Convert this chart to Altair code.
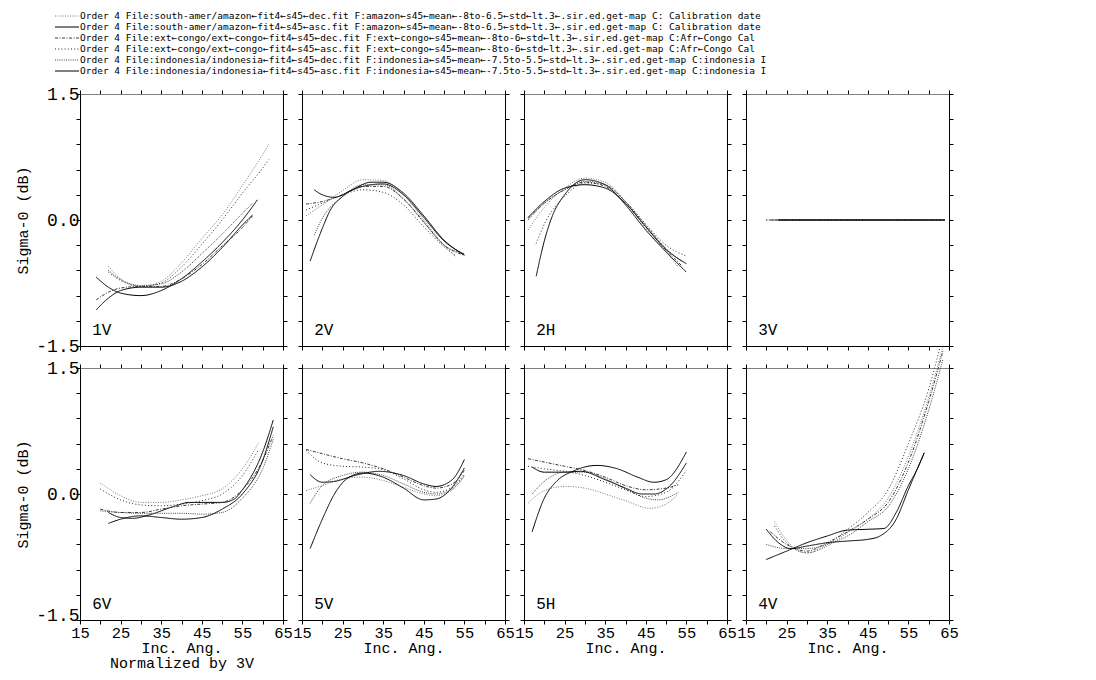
import altair as alt
import pandas as pd

# ---------------- series / legend ----------------
SERIES = ["amz_dec", "amz_asc", "con_dec", "con_asc", "ind_dec", "ind_asc"]
LEGEND_TEXT = [
    "Order 4 File:south-amer/amazon←fit4←s45←dec.fit F:amazon←s45←mean←-8to-6.5←std←lt.3←.sir.ed.get-map C:  Calibration date",
    "Order 4 File:south-amer/amazon←fit4←s45←asc.fit F:amazon←s45←mean←-8to-6.5←std←lt.3←.sir.ed.get-map C:  Calibration date",
    "Order 4 File:ext←congo/ext←congo←fit4←s45←dec.fit F:ext←congo←s45←mean←-8to-6←std←lt.3←.sir.ed.get-map C:Afr←Congo   Cal",
    "Order 4 File:ext←congo/ext←congo←fit4←s45←asc.fit F:ext←congo←s45←mean←-8to-6←std←lt.3←.sir.ed.get-map C:Afr←Congo   Cal",
    "Order 4 File:indonesia/indonesia←fit4←s45←dec.fit F:indonesia←s45←mean←-7.5to-5.5←std←lt.3←.sir.ed.get-map C:indonesia I",
    "Order 4 File:indonesia/indonesia←fit4←s45←asc.fit F:indonesia←s45←mean←-7.5to-5.5←std←lt.3←.sir.ed.get-map C:indonesia I",
]
SERIES_COLORS = ["#7a7a7a", "#000000", "#3a3a3a", "#2a2a2a", "#404040", "#000000"]
SERIES_DASH = [[1, 1.5], [1, 0], [3, 1.5, 1, 1.5], [1, 2.2], [1, 1.2], [1, 0]]

X_TICKS = [15, 20, 25, 30, 35, 40, 45, 50, 55, 60, 65]
Y_TICKS = [-1.5, -1.2, -0.9, -0.6, -0.3, 0.0, 0.3, 0.6, 0.9, 1.2, 1.5]

# ---------------- panel 1V ----------------
V1_AMZ_DEC = [(22, -0.55), (25, -0.70), (30, -0.79), (35, -0.73), (40, -0.51), (45, -0.22), (50, 0.06), (55, 0.41), (60, 0.78), (61.5, 0.90)]
V1_AMZ_ASC = [(19, -0.68), (22, -0.80), (25, -0.87), (30, -0.90), (35, -0.84), (40, -0.70), (45, -0.50), (50, -0.27), (55, 0.00), (58.7, 0.24)]
V1_CON_DEC = [(19, -0.95), (22, -0.86), (25, -0.81), (30, -0.79), (35, -0.79), (40, -0.70), (45, -0.53), (50, -0.31), (55, -0.09), (57.5, 0.05)]
V1_CON_ASC = [(22, -0.62), (25, -0.72), (30, -0.79), (35, -0.75), (40, -0.56), (45, -0.29), (50, 0.00), (55, 0.32), (60, 0.62), (61.5, 0.72)]
V1_IND_DEC = [(22, -0.60), (25, -0.71), (30, -0.78), (35, -0.76), (40, -0.62), (45, -0.40), (50, -0.17), (55, 0.08), (57.5, 0.20)]
V1_IND_ASC = [(19, -1.07), (22, -0.93), (25, -0.84), (30, -0.80), (35, -0.80), (40, -0.73), (45, -0.56), (50, -0.33), (55, -0.06), (57.5, 0.06)]

# ---------------- panel 2V ----------------
V2_AMZ_DEC = [(16, 0.05), (20, 0.18), (25, 0.35), (30, 0.48), (35, 0.47), (40, 0.30), (45, 0.00), (50, -0.30), (53, -0.44)]
V2_AMZ_ASC = [(17, -0.49), (20, -0.10), (22, 0.12), (25, 0.28), (30, 0.40), (35, 0.43), (40, 0.30), (45, 0.03), (50, -0.25), (55, -0.41)]
V2_CON_DEC = [(16, 0.19), (20, 0.22), (25, 0.30), (30, 0.40), (35, 0.40), (40, 0.25), (45, -0.02), (50, -0.30), (55, -0.42)]
V2_CON_ASC = [(16, 0.12), (20, 0.20), (25, 0.30), (30, 0.36), (35, 0.33), (40, 0.18), (45, -0.08), (50, -0.32), (53, -0.43)]
V2_IND_DEC = [(18, -0.18), (20, 0.02), (25, 0.28), (30, 0.42), (35, 0.42), (40, 0.25), (45, -0.03), (50, -0.30), (55, -0.40)]
V2_IND_ASC = [(18, 0.36), (20, 0.30), (23, 0.27), (27, 0.35), (32, 0.45), (35, 0.45), (40, 0.32), (45, 0.05), (50, -0.24), (55, -0.42)]

# ---------------- panel 2H ----------------
H2_AMZ_DEC = [(16, -0.12), (20, 0.15), (25, 0.38), (30, 0.50), (35, 0.45), (40, 0.22), (45, -0.10), (50, -0.38), (53, -0.56)]
H2_AMZ_ASC = [(18, -0.67), (20, -0.25), (22, 0.05), (25, 0.30), (30, 0.48), (35, 0.42), (40, 0.18), (45, -0.12), (50, -0.38), (55, -0.62)]
H2_CON_DEC = [(16, 0.02), (20, 0.20), (25, 0.36), (30, 0.45), (35, 0.40), (40, 0.20), (45, -0.08), (50, -0.36), (54, -0.55)]
H2_CON_ASC = [(18, -0.28), (20, -0.05), (25, 0.28), (30, 0.44), (35, 0.42), (40, 0.22), (45, -0.05), (50, -0.30), (55, -0.43)]
H2_IND_DEC = [(16, 0.00), (20, 0.20), (25, 0.36), (30, 0.46), (35, 0.42), (40, 0.22), (45, -0.06), (50, -0.34), (54, -0.50)]
H2_IND_ASC = [(16, 0.03), (20, 0.22), (25, 0.38), (30, 0.42), (35, 0.38), (40, 0.20), (45, -0.08), (50, -0.35), (55, -0.52)]

# ---------------- panel 3V (reference beam) ----------------
V3_AMZ_DEC = [(20, 0.0), (64, 0.0)]
V3_AMZ_ASC = [(23, 0.0), (64, 0.0)]
V3_CON_DEC = [(21, 0.0), (64, 0.0)]
V3_CON_ASC = [(20, 0.0), (63, 0.0)]
V3_IND_DEC = [(22, 0.0), (64, 0.0)]
V3_IND_ASC = [(23, 0.0), (64, 0.0)]

# ---------------- panel 6V ----------------
V6_AMZ_DEC = [(20, 0.13), (25, -0.02), (30, -0.10), (35, -0.10), (40, -0.07), (45, -0.02), (50, 0.06), (55, 0.30), (59, 0.61)]
V6_AMZ_ASC = [(22, -0.22), (25, -0.28), (28, -0.29), (32, -0.25), (38, -0.15), (42, -0.10), (45, -0.10), (50, -0.10), (53, -0.06), (55, 0.05), (60, 0.50), (62.6, 0.88)]
V6_CON_DEC = [(20, -0.18), (25, -0.22), (30, -0.22), (35, -0.18), (40, -0.14), (45, -0.12), (50, -0.10), (55, 0.05), (60, 0.40), (62.6, 0.70)]
V6_CON_ASC = [(20, 0.06), (25, -0.07), (30, -0.13), (35, -0.14), (40, -0.12), (45, -0.08), (50, 0.00), (55, 0.22), (59, 0.53)]
V6_IND_DEC = [(20, -0.20), (25, -0.22), (30, -0.23), (35, -0.23), (40, -0.23), (45, -0.24), (50, -0.22), (55, -0.05), (60, 0.30), (62.6, 0.65)]
V6_IND_ASC = [(22, -0.35), (25, -0.30), (30, -0.26), (35, -0.28), (40, -0.30), (45, -0.28), (50, -0.18), (55, 0.00), (60, 0.40), (62.6, 0.80)]

# ---------------- panel 5V ----------------
V5_AMZ_DEC = [(16, 0.04), (20, 0.10), (25, 0.18), (30, 0.20), (35, 0.16), (40, 0.08), (45, 0.00), (48, -0.02), (52, 0.05), (55, 0.21)]
V5_AMZ_ASC = [(17, -0.65), (20, -0.30), (23, 0.00), (26, 0.18), (30, 0.25), (35, 0.20), (40, 0.07), (45, -0.07), (48, -0.06), (52, 0.08), (55, 0.31)]
V5_CON_DEC = [(16, 0.53), (20, 0.48), (25, 0.42), (30, 0.37), (35, 0.30), (40, 0.20), (45, 0.10), (48, 0.07), (52, 0.12), (55, 0.28)]
V5_CON_ASC = [(16, 0.52), (20, 0.37), (25, 0.33), (30, 0.32), (35, 0.29), (40, 0.18), (45, 0.05), (48, 0.02), (52, 0.08), (55, 0.24)]
V5_IND_DEC = [(17, -0.11), (20, 0.10), (25, 0.22), (30, 0.26), (35, 0.22), (40, 0.12), (45, 0.02), (48, 0.00), (52, 0.06), (55, 0.22)]
V5_IND_ASC = [(17, 0.23), (20, 0.14), (23, 0.15), (28, 0.22), (34, 0.27), (40, 0.22), (45, 0.12), (48, 0.09), (52, 0.17), (55, 0.41)]

# ---------------- panel 5H ----------------
H5_AMZ_DEC = [(16, -0.11), (20, 0.04), (25, 0.09), (30, 0.07), (35, 0.00), (40, -0.08), (46, -0.17), (50, -0.12), (53, 0.00)]
H5_AMZ_ASC = [(17, -0.45), (20, -0.05), (23, 0.15), (27, 0.27), (33, 0.34), (38, 0.30), (43, 0.20), (47, 0.14), (50, 0.17), (55, 0.50)]
H5_CON_DEC = [(16, 0.42), (20, 0.38), (25, 0.33), (30, 0.28), (35, 0.20), (40, 0.10), (45, 0.05), (50, 0.07), (53, 0.11)]
H5_CON_ASC = [(16, 0.33), (20, 0.30), (25, 0.27), (30, 0.22), (35, 0.14), (40, 0.05), (45, -0.03), (50, 0.02), (55, 0.28)]
H5_IND_DEC = [(17, 0.00), (20, 0.15), (25, 0.26), (30, 0.26), (35, 0.18), (40, 0.06), (45, -0.05), (48, -0.07), (53, 0.02)]
H5_IND_ASC = [(17, 0.32), (20, 0.26), (25, 0.26), (29, 0.27), (35, 0.17), (40, 0.07), (44, 0.00), (47, 0.00), (51, 0.10), (55, 0.37)]

# ---------------- panel 4V ----------------
V4_AMZ_DEC = [(22, -0.33), (25, -0.55), (28, -0.68), (30, -0.70), (35, -0.62), (40, -0.46), (45, -0.30), (50, -0.05), (55, 0.45), (60, 1.15), (63.5, 1.75)]
V4_AMZ_ASC = [(20, -0.78), (25, -0.68), (30, -0.58), (35, -0.50), (40, -0.43), (45, -0.42), (49, -0.41), (52, -0.22), (55, 0.10), (57, 0.28), (58.9, 0.49)]
V4_CON_DEC = [(21, -0.45), (25, -0.60), (30, -0.68), (35, -0.58), (40, -0.45), (45, -0.30), (50, -0.10), (55, 0.38), (60, 1.10), (63.5, 1.70)]
V4_CON_ASC = [(22, -0.38), (25, -0.58), (30, -0.70), (35, -0.60), (40, -0.42), (45, -0.22), (50, 0.05), (55, 0.60), (60, 1.25), (62.8, 1.75)]
V4_IND_DEC = [(20, -0.60), (25, -0.65), (30, -0.65), (35, -0.60), (40, -0.50), (45, -0.33), (50, -0.15), (55, 0.30), (60, 1.00), (63.5, 1.60)]
V4_IND_ASC = [(20, -0.42), (23, -0.58), (26, -0.65), (30, -0.62), (35, -0.58), (40, -0.56), (45, -0.54), (48, -0.50), (52, -0.30), (55, 0.05), (58.9, 0.49)]

PANEL_NAMES = ["1V", "2V", "2H", "3V", "6V", "5V", "5H", "4V"]
PANEL_DATA = [
    [V1_AMZ_DEC, V1_AMZ_ASC, V1_CON_DEC, V1_CON_ASC, V1_IND_DEC, V1_IND_ASC],
    [V2_AMZ_DEC, V2_AMZ_ASC, V2_CON_DEC, V2_CON_ASC, V2_IND_DEC, V2_IND_ASC],
    [H2_AMZ_DEC, H2_AMZ_ASC, H2_CON_DEC, H2_CON_ASC, H2_IND_DEC, H2_IND_ASC],
    [V3_AMZ_DEC, V3_AMZ_ASC, V3_CON_DEC, V3_CON_ASC, V3_IND_DEC, V3_IND_ASC],
    [V6_AMZ_DEC, V6_AMZ_ASC, V6_CON_DEC, V6_CON_ASC, V6_IND_DEC, V6_IND_ASC],
    [V5_AMZ_DEC, V5_AMZ_ASC, V5_CON_DEC, V5_CON_ASC, V5_IND_DEC, V5_IND_ASC],
    [H5_AMZ_DEC, H5_AMZ_ASC, H5_CON_DEC, H5_CON_ASC, H5_IND_DEC, H5_IND_ASC],
    [V4_AMZ_DEC, V4_AMZ_ASC, V4_CON_DEC, V4_CON_ASC, V4_IND_DEC, V4_IND_ASC],
]

FONT = "Liberation Mono"
LEGEND_FONT = "DejaVu Sans Mono"
PW, PH = 203, 252

color_enc = alt.Color("series:N", scale=alt.Scale(domain=SERIES, range=SERIES_COLORS), legend=None)
dash_enc = alt.StrokeDash("series:N", scale=alt.Scale(domain=SERIES, range=SERIES_DASH), legend=None)

X_LABEL_EXPR = "datum.value % 10 == 5 ? format(datum.value, 'd') : ''"
Y_LABEL_EXPR = ("datum.value > 1.4 ? '1.5' : (datum.value < -1.4 ? '-1.5' : "
                "(abs(datum.value) < 0.01 ? '0.0' : ''))")


def make_panel(i):
    name = PANEL_NAMES[i]
    row, col = divmod(i, 4)
    recs = []
    for s, pts in zip(SERIES, PANEL_DATA[i]):
        for a, v in pts:
            recs.append({"series": s, "angle": a, "value": v})
    df = pd.DataFrame(recs)

    xs = alt.Scale(domain=[15, 65], nice=False, zero=False)
    ys = alt.Scale(domain=[-1.5, 1.5], nice=False, zero=False)

    bottom_kw = dict(orient="bottom", values=X_TICKS, labelExpr=X_LABEL_EXPR,
                     labels=(row == 1), labelFlush=False, labelOverlap=False,
                     labelPadding=1, labelFontSize=15.5, titlePadding=0)
    if row == 1:
        bottom_kw["title"] = ["Inc. Ang.", "Normalized by 3V"] if col == 0 else "Inc. Ang."
    else:
        bottom_kw["title"] = None
    left_kw = dict(orient="left", values=Y_TICKS, labelExpr=Y_LABEL_EXPR,
                   labels=(col == 0), labelOverlap=False, labelPadding=-3, titlePadding=5)
    if row == 1:
        left_kw["labelBaseline"] = {"condition": {"test": "datum.value < -1.4", "value": "alphabetic"},
                                    "value": "middle"}
    left_kw["title"] = "Sigma-0 (dB)" if col == 0 else None

    lines = alt.Chart(df).mark_line(interpolate="monotone", strokeWidth=1, clip=False).encode(
        x=alt.X("angle:Q", scale=xs, axis=alt.Axis(**bottom_kw)),
        y=alt.Y("value:Q", scale=ys, axis=alt.Axis(**left_kw)),
        color=color_enc,
        strokeDash=dash_enc,
        detail="series:N",
    )

    lab_df = pd.DataFrame({"angle": [18.0], "value": [-1.31], "label": [name]})
    label = alt.Chart(lab_df).mark_text(align="left", baseline="middle", font=FONT,
                                        fontSize=16, color="black").encode(
        x=alt.X("angle:Q", scale=xs, axis=alt.Axis(orient="top", values=X_TICKS, labels=False,
                                                     title=None, domainColor="#808080")),
        y=alt.Y("value:Q", scale=ys, axis=alt.Axis(orient="right", values=Y_TICKS, labels=False,
                                                     title=None)),
        text="label:N",
    )
    return alt.layer(lines, label).resolve_axis(x="independent", y="independent").properties(
        width=PW, height=PH)


panels = [make_panel(i) for i in range(8)]
grid = alt.concat(*panels, columns=4, spacing={"row": 22, "column": 19}, bounds="flush")

# ---------------- legend block ----------------
leg_df = pd.DataFrame({"series": SERIES, "idx": list(range(6)), "label": LEGEND_TEXT})
ly = alt.Y("idx:Q", scale=alt.Scale(domain=[0, 5], reverse=True, nice=False, zero=False), axis=None)
leg_rule = alt.Chart(leg_df).mark_rule(strokeWidth=1).encode(
    x=alt.value(-25), x2=alt.value(-1), y=ly, color=color_enc, strokeDash=dash_enc)
leg_text = alt.Chart(leg_df).mark_text(align="left", baseline="middle", font=LEGEND_FONT,
                                       fontSize=9.5, color="black").encode(
    x=alt.value(0), y=ly, text="label:N")
legend = alt.layer(leg_rule, leg_text).properties(width=869, height=55)

chart = alt.vconcat(legend, grid, spacing=23, bounds="flush").properties(
    padding={"left": 7, "top": 3, "right": 5, "bottom": 5}
).configure_view(strokeWidth=0).configure_axis(
    labelFont=FONT, labelFontSize=18, labelColor="black",
    titleFont=FONT, titleFontSize=15, titleFontWeight="normal", titleColor="black",
    titleLineHeight=15,
    domainColor="black", domainWidth=1, tickColor="black", tickSize=4, tickWidth=1,
    grid=False,
)

chart.save("out.html", embed_options={"renderer": "svg", "actions": False})
